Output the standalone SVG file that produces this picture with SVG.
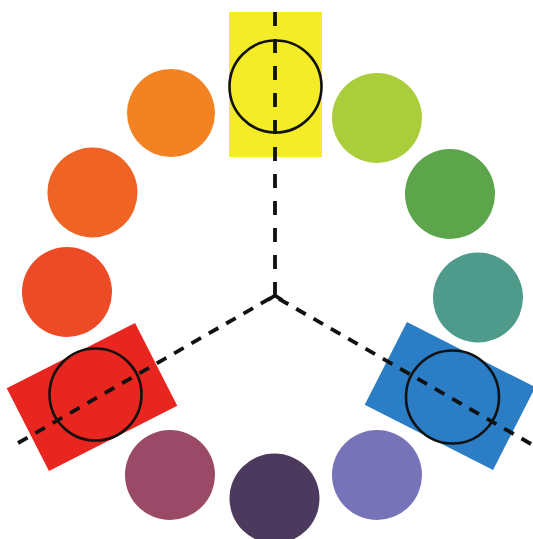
<svg xmlns="http://www.w3.org/2000/svg" width="533" height="539" viewBox="0 0 533 539">
<style>
.c{stroke:none}
.ring{fill:none;stroke:#111;stroke-width:2.6}
.dash{fill:none;stroke:#111;stroke-width:3.8}
.v{stroke-dasharray:14 13}
.d{stroke-dasharray:11 9}
</style>
<rect width="533" height="539" fill="#fff"/>
<g id="orange"><circle class="c" cx="171" cy="113" r="44" fill="#f38222"/></g>
<g id="yellowgreen"><circle class="c" cx="377" cy="118" r="45" fill="#aacd3b"/></g>
<g id="redorange"><circle class="c" cx="92.5" cy="192.5" r="45" fill="#ef6424"/></g>
<g id="green"><circle class="c" cx="450" cy="194" r="45" fill="#5ca54a"/></g>
<g id="orangered"><circle class="c" cx="67" cy="292" r="45" fill="#ec4b25"/></g>
<g id="teal"><circle class="c" cx="478" cy="297.5" r="45" fill="#4e9b8c"/></g>
<g id="mauve"><circle class="c" cx="170" cy="475" r="45" fill="#9a4a66"/></g>
<g id="purple"><circle class="c" cx="274.5" cy="498.5" r="45" fill="#4b3a5d"/></g>
<g id="lavender"><circle class="c" cx="377" cy="475" r="45" fill="#7673b8"/></g>
<g id="yellow">
<rect x="229" y="12" width="93" height="145" fill="#f3ec27"/>
</g>
<g id="red">
<rect x="-72" y="-46.5" width="144" height="93" fill="#e8251f" transform="translate(92 397) rotate(-27)"/>
</g>
<g id="blue">
<rect x="-72" y="-46.5" width="144" height="93" fill="#2b7dc6" transform="translate(450 396) rotate(27)"/>
</g>
<g id="connectors">
<path class="dash v" d="M275 12 V296"/>
<path class="dash d" d="M18 443 L270.4 298.1"/>
<path class="dash d" d="M531 444 L278.9 298.8"/>
<path class="dash" d="M268 300 L275 295.5 L282 300" stroke-linejoin="round"/>
</g>
<g id="rings">
<circle class="ring" cx="275.5" cy="86.5" r="46"/>
<circle class="ring" cx="95.5" cy="394.5" r="46"/>
<circle class="ring" cx="452.5" cy="397" r="46.5"/>
</g>
</svg>
